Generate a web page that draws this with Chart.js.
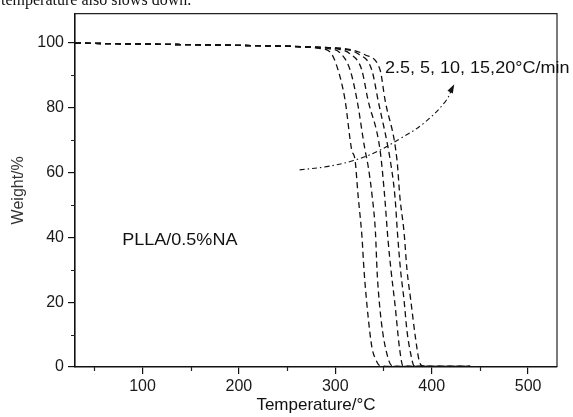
<!DOCTYPE html>
<html>
<head>
<meta charset="utf-8">
<script src="https://cdn.jsdelivr.net/npm/chart.js@4.4.1/dist/chart.umd.min.js"></script>
<style>
  html, body { margin: 0; padding: 0; background: #fff; }
  #wrap { width: 573px; height: 417px; }
</style>
</head>
<body>
<div id="wrap"><canvas id="tga" width="573" height="417"></canvas></div>
<script>
// heating rates (°C/min)
const rates = ["2.5", "5", "10", "15", "20"];

// TGA curves: temperature (°C) / weight (%)
const temp25 = [30, 100, 200, 260, 283, 294.5, 302.8, 310.1, 317.0, 320.5, 323.6, 327.7, 329.8, 333.9, 338.1, 342.2, 346.4, 360, 440];
const wt25   = [99.9, 99.6, 99.2, 98.8, 98.3, 97.2, 91.7, 82.4, 67.0, 63.9, 53.1, 40.1, 29.9, 16.0, 5.9, 2.2, 0.4, 0.2, 0.2];

const temp5 = [30, 100, 200, 270, 293, 304.9, 315.3, 322.5, 330.8, 333.9, 338.1, 341.7, 343.3, 344.8, 347.9, 352.6, 358.8, 370, 440];
const wt5   = [99.9, 99.6, 99.2, 98.7, 98.2, 96.9, 91.7, 82.4, 67.0, 62.3, 53.1, 41.4, 29.9, 23.1, 13.6, 5.2, 0.4, 0.2, 0.2];

const temp10 = [30, 100, 200, 275, 302, 315.3, 327.4, 333.9, 346.4, 351.1, 354.7, 357.8, 362.0, 366.6, 370.2, 380, 440];
const wt10   = [99.9, 99.6, 99.2, 98.7, 98.1, 96.6, 91.7, 82.4, 67.0, 53.1, 39.2, 29.9, 19.1, 5.9, 0.4, 0.2, 0.2];

const temp15 = [30, 100, 200, 280, 310, 323.6, 337.8, 344.3, 357.8, 362.0, 364.5, 367.7, 371.3, 374.4, 378.5, 381.7, 390, 440];
const wt15   = [99.9, 99.6, 99.2, 98.6, 98.0, 96.6, 91.7, 82.4, 62.3, 52.2, 41.4, 29.9, 20.7, 11.1, 3.7, 0.4, 0.2, 0.2];

const temp20 = [30, 100, 200, 285, 316, 330.8, 346.4, 351.6, 364.0, 367.1, 371.3, 374.4, 378.0, 383.2, 386.8, 390.0, 400, 440];
const wt20   = [99.9, 99.6, 99.2, 98.6, 97.9, 96.3, 91.7, 82.4, 63.9, 52.2, 41.7, 29.9, 21.3, 9.0, 2.2, 0.4, 0.2, 0.2];

// axis ticks
const xTicks = [100, 200, 300, 400, 500];
const xMinor = [50, 150, 250, 350, 450];
const yTicks = [0, 20, 40, 60, 80, 100];
const yMinor = [10, 30, 50, 70, 90];

// arrow drawn across the curves (data units)
const arrowT = [263, 291, 318, 343, 367, 391, 414, 422];
const arrowW = [60.8, 61.8, 63.6, 66.4, 70.4, 75.0, 81.8, 86.4];

// annotation text anchors (data units)
const rateLabel = { x: 351.5, y: 92, text: rates.join(", ").replace("15, 20", "15,20") + "°C/min" };
const sampleLabel = { x: 79, y: 39, text: "PLLA/0.5%NA" };

const INK = "#111";
const FONT = "'Liberation Sans', Arial, sans-serif";

function pts(xs, ys) {
  return xs.map((x, i) => ({ x: x, y: ys[i] }));
}

const curves = [temp25, temp5, temp10, temp15, temp20].map((t, i) => ({
  label: rates[i] + " °C/min",
  data: pts(t, [wt25, wt5, wt10, wt15, wt20][i]),
  showLine: true,
  borderColor: INK,
  borderWidth: 1.3,
  borderDash: [6, 4],
  pointRadius: 0,
  cubicInterpolationMode: "monotone"
}));

const arrowSet = {
  label: "arrow",
  data: pts(arrowT, arrowW),
  showLine: true,
  borderColor: INK,
  borderWidth: 1.1,
  borderDash: [5, 3, 1.5, 3],
  pointRadius: 0,
  tension: 0.4
};

// draws text stretched a little wider, like the scanned figure
function wideText(ctx, text, px, py, sx) {
  ctx.save();
  ctx.translate(px, py);
  ctx.scale(sx, 1);
  ctx.fillText(text, 0, 0);
  ctx.restore();
}

// box, minor ticks, arrow head, labels
const extras = {
  id: "extras",
  afterDraw(chart) {
    const { ctx, chartArea: a, scales: { x, y } } = chart;
    ctx.save();

    // frame top + right
    ctx.strokeStyle = "#222";
    ctx.lineWidth = 1.2;
    ctx.beginPath();
    ctx.moveTo(a.left, a.top);
    ctx.lineTo(a.right, a.top);
    ctx.lineTo(a.right, a.bottom);
    ctx.stroke();

    // minor ticks (outside)
    ctx.beginPath();
    xMinor.forEach(v => {
      const px = Math.round(x.getPixelForValue(v)) + 0.5;
      ctx.moveTo(px, a.bottom);
      ctx.lineTo(px, a.bottom + 4);
    });
    yMinor.forEach(v => {
      const py = Math.round(y.getPixelForValue(v)) + 0.5;
      ctx.moveTo(a.left, py);
      ctx.lineTo(a.left - 4, py);
    });
    ctx.stroke();

    // arrow head
    const meta = chart.getDatasetMeta(chart.data.datasets.length - 1);
    const n = meta.data.length;
    const p1 = meta.data[n - 2], p2 = meta.data[n - 1];
    const ang = Math.atan2(p2.y - p1.y, p2.x - p1.x);
    ctx.fillStyle = INK;
    ctx.beginPath();
    ctx.moveTo(p2.x + 3 * Math.cos(ang), p2.y + 3 * Math.sin(ang));
    ctx.lineTo(p2.x - 6 * Math.cos(ang) + 3 * Math.sin(ang), p2.y - 6 * Math.sin(ang) - 3 * Math.cos(ang));
    ctx.lineTo(p2.x - 6 * Math.cos(ang) - 3 * Math.sin(ang), p2.y - 6 * Math.sin(ang) + 3 * Math.cos(ang));
    ctx.closePath();
    ctx.fill();

    // labels
    ctx.fillStyle = INK;
    ctx.textBaseline = "middle";
    ctx.textAlign = "left";
    ctx.font = "17px " + FONT;
    wideText(ctx, rateLabel.text, x.getPixelForValue(rateLabel.x), y.getPixelForValue(rateLabel.y), 1.06);
    wideText(ctx, sampleLabel.text, x.getPixelForValue(sampleLabel.x), y.getPixelForValue(sampleLabel.y), 1.06);

    // cropped line of body text above the figure
    ctx.font = "16px 'Liberation Serif', 'Times New Roman', serif";
    ctx.textBaseline = "alphabetic";
    ctx.fillText("temperature also slows down.", 1, 5);

    ctx.restore();
  }
};

new Chart(document.getElementById("tga"), {
  type: "scatter",
  data: { datasets: [...curves, arrowSet] },
  options: {
    responsive: false,
    animation: false,
    layout: { padding: { top: 13, right: 16, left: 0, bottom: 0 } },
    plugins: { legend: { display: false }, tooltip: { enabled: false } },
    scales: {
      x: {
        type: "linear",
        min: 30,
        max: 530,
        afterBuildTicks: s => { s.ticks = xTicks.map(v => ({ value: v })); },
        afterFit: s => { s.height = 50; },
        border: { display: true, color: "#111", width: 1.6 },
        grid: { display: true, drawOnChartArea: false, drawTicks: true, tickLength: 7, color: "#111", lineWidth: 1.2 },
        ticks: { color: "#1a1a1a", font: { family: FONT, size: 16 }, padding: 3, maxRotation: 0 },
        title: { display: true, text: "Temperature/°C", color: "#111", font: { family: FONT, size: 17 }, padding: { top: 0, bottom: 1 } }
      },
      y: {
        min: 0,
        max: 109,
        afterBuildTicks: s => { s.ticks = yTicks.map(v => ({ value: v })); },
        afterFit: s => { s.width = 75; },
        border: { display: true, color: "#111", width: 1.6 },
        grid: { display: true, drawOnChartArea: false, drawTicks: true, tickLength: 7, color: "#111", lineWidth: 1.2 },
        ticks: { color: "#1a1a1a", font: { family: FONT, size: 16 }, padding: 4 },
        title: { display: true, text: "Weight/%", color: "#333", font: { family: FONT, size: 16 }, padding: { top: 9, bottom: 0 } }
      }
    }
  },
  plugins: [extras]
});
</script>
</body>
</html>
